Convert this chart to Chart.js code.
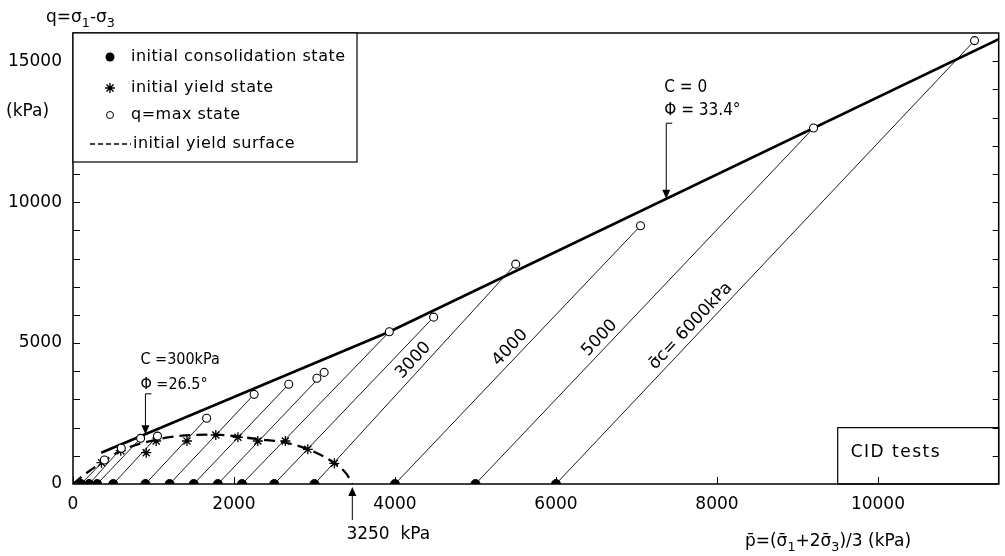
<!DOCTYPE html>
<html>
<head>
<meta charset="utf-8">
<script src="https://cdn.jsdelivr.net/npm/chart.js@4.4.1/dist/chart.umd.min.js"></script>
<style>
  html, body { margin: 0; padding: 0; background: #fff; }
</style>
</head>
<body>
<canvas id="myChart" width="1005" height="556"></canvas>
<script>
// initial consolidation pressures (kPa), all at q = 0
const consolidation_p = [100, 200, 300, 500, 900, 1200, 1500, 1800, 2100, 2500, 3000, 4000, 5000, 6000];
// q = max state points
const qmax_p = [390, 600, 840, 1050, 1660, 2250, 2680, 3030, 3120, 3930, 4480, 5500, 7050, 9200, 11200];
const qmax_q = [850, 1270, 1620, 1700, 2330, 3180, 3540, 3750, 3960, 5400, 5920, 7800, 9160, 12630, 15730];
// stress path i runs from consolidation_p[i] to qmax point path_end[i]
const path_end = [0, 1, 2, 3, 4, 5, 6, 8, 9, 10, 11, 12, 13, 14];
const path_labels = ["", "", "", "", "", "", "", "", "", "", "3000", "4000", "5000", "σ\u0304c= 6000kPa"];
// initial yield state points
const yield_p = [354, 593, 910, 1033, 1416, 1774, 2049, 2296, 2638, 2917, 3247];
const yield_q = [756, 1181, 1110, 1525, 1525, 1738, 1657, 1525, 1525, 1231, 734];
// initial yield surface (dashed)
const surface_p = [0, 150, 354, 593, 900, 1200, 1500, 1780, 2050, 2300, 2640, 2920, 3250, 3400, 3470];
const surface_q = [0, 350, 756, 1181, 1480, 1660, 1740, 1750, 1680, 1590, 1470, 1231, 734, 350, 0];
// failure envelope (C=300kPa, phi=26.5 then C=0, phi=33.4)
const envelope_p = [350, 3930, 11500];
const envelope_q = [1110, 5400, 15780];
const x_ticks = [0, 2000, 4000, 6000, 8000, 10000];
const y_ticks = [0, 5000, 10000, 15000];
const y_minor = [1000, 2000, 3000, 4000, 5000, 6000, 7000, 8000, 9000, 10000, 11000, 12000, 13000, 14000, 15000];

const FONT = '"DejaVu Sans", sans-serif';
const FONT_C = '"DejaVu Sans Condensed", "DejaVu Sans", sans-serif';
const ctx = document.getElementById("myChart").getContext("2d");

const toPts = (xs, ys) => xs.map((v, i) => ({ x: v, y: ys[i] }));

const pathPoints = [];
consolidation_p.forEach((p0, i) => {
  const j = path_end[i];
  pathPoints.push({ x: p0, y: 0 }, { x: qmax_p[j], y: qmax_q[j] }, { x: qmax_p[j], y: null });
});

//helpers
const drawRich = (c, parts, x, y, size, align, family) => {
  const fam = family || FONT;
  let w = 0;
  parts.forEach(([t, sub]) => {
    c.font = (sub ? size * 0.75 : size) + "px " + fam;
    w += c.measureText(t).width;
  });
  let cx = align === "center" ? x - w / 2 : x;
  c.textAlign = "left";
  c.textBaseline = "alphabetic";
  parts.forEach(([t, sub]) => {
    c.font = (sub ? size * 0.75 : size) + "px " + fam;
    c.fillText(t, cx, sub ? y + size * 0.3 : y);
    cx += c.measureText(t).width;
  });
};
const downArrow = (c, x, yTop, yTip) => {
  c.lineWidth = 1;
  c.beginPath();
  c.moveTo(x + 6, yTop);
  c.lineTo(x, yTop);
  c.lineTo(x, yTip - 8);
  c.stroke();
  c.beginPath();
  c.moveTo(x - 4, yTip - 9);
  c.lineTo(x + 4, yTip - 9);
  c.lineTo(x, yTip);
  c.closePath();
  c.fill();
};
const envelopeAt = (p) => {
  for (let i = 0; i < envelope_p.length - 1; i++) {
    if (p <= envelope_p[i + 1]) {
      const t = (p - envelope_p[i]) / (envelope_p[i + 1] - envelope_p[i]);
      return envelope_q[i] + t * (envelope_q[i + 1] - envelope_q[i]);
    }
  }
  return envelope_q[envelope_q.length - 1];
};

const figurePlugin = {
  id: "figure",
  afterDatasetsDraw(chart) {
    const c = chart.ctx;
    const a = chart.chartArea;
    const xs = chart.scales.x;
    const ys = chart.scales.y;
    c.save();
    c.strokeStyle = "#000";
    c.fillStyle = "#000";
    // frame
    c.lineWidth = 1.5;
    c.strokeRect(a.left, a.top, a.right - a.left, a.bottom - a.top);
    // inward ticks
    c.lineWidth = 1;
    c.beginPath();
    x_ticks.forEach((v) => {
      const px = Math.round(xs.getPixelForValue(v)) + 0.5;
      c.moveTo(px, a.bottom);
      c.lineTo(px, a.bottom - 7);
    });
    y_minor.forEach((v) => {
      const py = Math.round(ys.getPixelForValue(v)) + 0.5;
      c.moveTo(a.left, py);
      c.lineTo(a.left + 7, py);
      c.moveTo(a.right, py);
      c.lineTo(a.right - 6, py);
    });
    c.stroke();

    // stress path labels
    c.font = "17px " + FONT;
    c.textAlign = "center";
    c.textBaseline = "bottom";
    const tPos = { 10: 0.53, 11: 0.5, 12: 0.39, 13: 0.34 };
    consolidation_p.forEach((p0, i) => {
      if (!path_labels[i]) return;
      const j = path_end[i];
      const x0 = xs.getPixelForValue(p0), y0 = ys.getPixelForValue(0);
      const x1 = xs.getPixelForValue(qmax_p[j]), y1 = ys.getPixelForValue(qmax_q[j]);
      const t = tPos[i];
      c.save();
      c.translate(x0 + t * (x1 - x0), y0 + t * (y1 - y0));
      c.rotate(Math.atan2(y1 - y0, x1 - x0));
      c.fillText(path_labels[i], 0, -2);
      c.restore();
    });

    // envelope annotations
    const ax1 = xs.getPixelForValue(7370);
    downArrow(c, ax1, ys.getPixelForValue(12800), ys.getPixelForValue(envelopeAt(7370)));
    drawRich(c, [["C = 0"]], ax1 - 2, 92, 17, "left", FONT_C);
    drawRich(c, [["Φ = 33.4°"]], ax1 - 2, 115, 17, "left", FONT_C);
    const ax2 = xs.getPixelForValue(900);
    downArrow(c, ax2, ys.getPixelForValue(3200), ys.getPixelForValue(envelopeAt(900)));
    drawRich(c, [["C =300kPa"]], ax2 - 5, 364, 16, "left", FONT_C);
    drawRich(c, [["Φ =26.5°"]], ax2 - 5, 389, 16, "left", FONT_C);

    // 3250 kPa arrow below the axis
    const ax3 = xs.getPixelForValue(3470);
    c.lineWidth = 1;
    c.beginPath();
    c.moveTo(ax3, a.bottom + 36);
    c.lineTo(ax3, a.bottom + 10);
    c.stroke();
    c.beginPath();
    c.moveTo(ax3 - 4, a.bottom + 12);
    c.lineTo(ax3 + 4, a.bottom + 12);
    c.lineTo(ax3, a.bottom + 3);
    c.closePath();
    c.fill();
    drawRich(c, [["3250  kPa"]], ax3 + 36, a.bottom + 55, 17, "center");

    // legend box
    const lx = a.left, ly = a.top, lw = 284, lh = 129;
    c.lineWidth = 1.2;
    c.fillStyle = "#fff";
    c.fillRect(lx, ly, lw, lh);
    c.strokeRect(lx, ly, lw, lh);
    c.fillStyle = "#000";
    const mx = lx + 37;
    const rows = [ly + 24, ly + 55, ly + 82, ly + 111];
    c.beginPath();
    c.arc(mx, rows[0], 4.5, 0, Math.PI * 2);
    c.fill();
    c.lineWidth = 1.4;
    c.beginPath();
    for (let k = 0; k < 4; k++) {
      const ang = (k * Math.PI) / 4;
      c.moveTo(mx - 5 * Math.cos(ang), rows[1] - 5 * Math.sin(ang));
      c.lineTo(mx + 5 * Math.cos(ang), rows[1] + 5 * Math.sin(ang));
    }
    c.stroke();
    c.lineWidth = 1;
    c.beginPath();
    c.arc(mx, rows[2], 3.5, 0, Math.PI * 2);
    c.stroke();
    c.lineWidth = 1.5;
    c.setLineDash([5, 3]);
    c.beginPath();
    c.moveTo(lx + 17, rows[3]);
    c.lineTo(lx + 58, rows[3]);
    c.stroke();
    c.setLineDash([]);
    c.font = "16px " + FONT;
    c.letterSpacing = "0.5px";
    c.textAlign = "left";
    c.textBaseline = "middle";
    c.fillText("initial consolidation state", lx + 58, rows[0]);
    c.fillText("initial yield state", lx + 58, rows[1]);
    c.fillText("q=max state", lx + 58, rows[2]);
    c.fillText("initial yield surface", lx + 60, rows[3]);

    // CID tests box
    const bx = xs.getPixelForValue(9500), by = ys.getPixelForValue(2000);
    c.lineWidth = 1.2;
    c.strokeRect(bx, by, a.right - bx, a.bottom - by);
    c.font = "17px " + FONT;
    c.letterSpacing = "1.5px";
    c.fillText("CID tests", bx + 13, by + 25);
    c.letterSpacing = "0px";

    // axis titles
    drawRich(c, [["q=σ"], ["1", true], ["-σ"], ["3", true]], 46, 22, 17);
    drawRich(c, [["(kPa)"]], 6, 116, 17);
    drawRich(c, [["p\u0304=(σ\u0304"], ["1", true], ["+2σ\u0304"], ["3", true], [")/3 (kPa)"]], 828, 546, 17, "center");
    c.restore();
  },
};

const myChart = new Chart(ctx, {
  type: "scatter",
  data: {
    datasets: [
      {
        label: "initial consolidation state",
        data: consolidation_p.map((p) => ({ x: p, y: 0 })),
        pointRadius: 4.5,
        pointBackgroundColor: "#000",
        pointBorderColor: "#000",
        showLine: false,
        order: 0,
      },
      {
        label: "q=max state",
        data: toPts(qmax_p, qmax_q),
        pointRadius: 4,
        pointBackgroundColor: "#fff",
        pointBorderColor: "#000",
        pointBorderWidth: 1.1,
        showLine: false,
        order: 1,
      },
      {
        label: "initial yield state",
        data: toPts(yield_p, yield_q),
        pointStyle: "star",
        pointRadius: 5,
        pointBorderColor: "#000",
        pointBorderWidth: 1.3,
        showLine: false,
        order: 2,
      },
      {
        label: "envelope",
        data: toPts(envelope_p, envelope_q),
        showLine: true,
        borderColor: "#000",
        borderWidth: 2.6,
        pointRadius: 0,
        order: 3,
      },
      {
        label: "initial yield surface",
        data: toPts(surface_p, surface_q),
        showLine: true,
        borderColor: "#000",
        borderWidth: 2.3,
        borderDash: [11, 6],
        cubicInterpolationMode: "monotone",
        pointRadius: 0,
        order: 4,
      },
      {
        label: "stress paths",
        data: pathPoints,
        showLine: true,
        spanGaps: false,
        borderColor: "#000",
        borderWidth: 0.9,
        pointRadius: 0,
        order: 5,
      },
    ],
  },
  options: {
    responsive: false,
    animation: false,
    devicePixelRatio: 1,
    layout: { padding: { top: 33, right: 2, left: 0, bottom: 0 } },
    plugins: {
      legend: { display: false },
      tooltip: { enabled: false },
    },
    scales: {
      x: {
        type: "linear",
        min: 0,
        max: 11500,
        border: { display: false },
        grid: { display: false, drawTicks: false },
        ticks: {
          color: "#000",
          font: { family: FONT, size: 17 },
          padding: 10,
          maxRotation: 0,
          callback: (v) => String(v),
        },
        afterBuildTicks: (s) => {
          s.ticks = x_ticks.map((v) => ({ value: v }));
        },
        afterFit: (s) => {
          s.height = 72;
        },
      },
      y: {
        type: "linear",
        min: 0,
        max: 16000,
        border: { display: false },
        grid: { display: false, drawTicks: false },
        ticks: {
          color: "#000",
          font: { family: FONT, size: 17 },
          padding: 11,
          callback: (v) => String(v),
        },
        afterBuildTicks: (s) => {
          s.ticks = y_ticks.map((v) => ({ value: v }));
        },
        afterFit: (s) => {
          s.width = 73;
        },
      },
    },
  },
  plugins: [figurePlugin],
});
</script>
</body>
</html>
